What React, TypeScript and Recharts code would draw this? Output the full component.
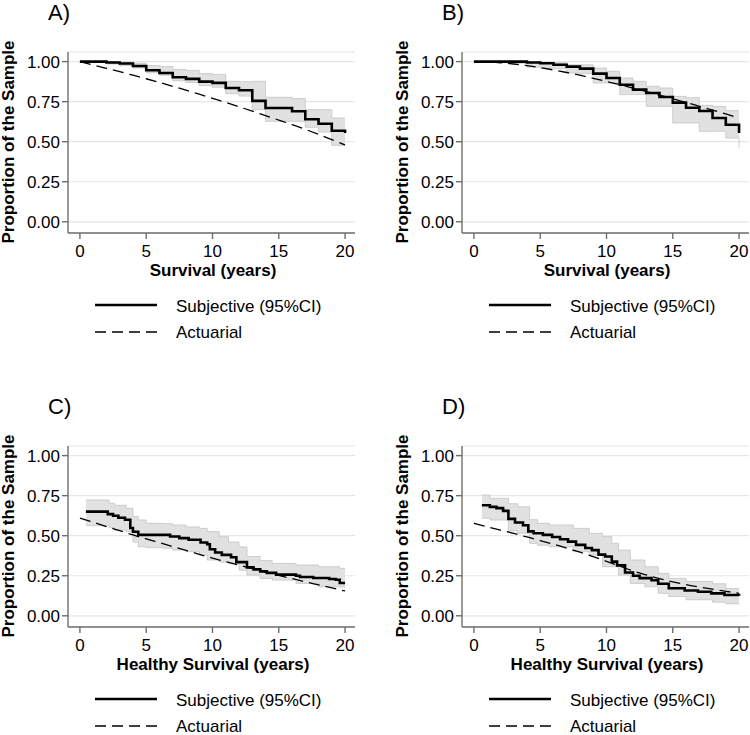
import { ComposedChart, Line, Area, XAxis, YAxis, CartesianGrid } from 'recharts';

// integer years used by panels A, B and all actuarial curves
const years = [0, 1, 2, 3, 4, 5, 6, 7, 8, 9, 10, 11, 12, 13, 14, 15, 16, 17, 18, 19, 20];

// A) survival
const aSubj = [1.0, 1.0, 0.994, 0.988, 0.973, 0.946, 0.929, 0.902, 0.892, 0.875, 0.867, 0.835, 0.821, 0.755, 0.71, 0.71, 0.69, 0.64, 0.6125, 0.568, 0.555];
const aLo = [0.998, 0.995, 0.985, 0.975, 0.96, 0.93, 0.915, 0.88, 0.87, 0.85, 0.84, 0.8, 0.785, 0.7, 0.627, 0.627, 0.627, 0.59, 0.56, 0.477, 0.477];
const aHi = [1.0, 1.0, 1.0, 0.998, 0.99, 0.975, 0.97, 0.95, 0.945, 0.925, 0.92, 0.877, 0.875, 0.877, 0.777, 0.777, 0.769, 0.7, 0.7, 0.648, 0.648];
const aAct = [1.0, 0.979, 0.958, 0.937, 0.915, 0.893, 0.87, 0.846, 0.822, 0.797, 0.771, 0.745, 0.718, 0.691, 0.663, 0.635, 0.607, 0.577, 0.546, 0.513, 0.48];

// B) survival
const bSubj = [1.0, 1.0, 1.0, 1.0, 0.994, 0.99, 0.98, 0.969, 0.956, 0.925, 0.898, 0.856, 0.825, 0.804, 0.779, 0.744, 0.712, 0.692, 0.648, 0.606, 0.554];
const bLo = [0.998, 0.996, 0.995, 0.99, 0.965, 0.96, 0.955, 0.929, 0.925, 0.867, 0.867, 0.794, 0.794, 0.721, 0.721, 0.617, 0.617, 0.565, 0.565, 0.523, 0.46];
const bHi = [1.0, 1.0, 1.0, 1.0, 0.998, 0.995, 0.993, 0.98, 0.98, 0.96, 0.94, 0.898, 0.877, 0.846, 0.835, 0.783, 0.775, 0.727, 0.72, 0.694, 0.694];
const bAct = [1.0, 0.998, 0.993, 0.985, 0.975, 0.962, 0.948, 0.932, 0.915, 0.896, 0.876, 0.856, 0.835, 0.813, 0.791, 0.768, 0.745, 0.721, 0.697, 0.673, 0.648];

// C) healthy survival
const cX = [0.45, 2.1, 2.5, 2.9, 3.4, 3.8, 4.0, 4.4, 6.8, 7.5, 8.2, 9.1, 9.6, 9.8, 10.2, 10.7, 11.4, 11.8, 12.6, 13.1, 13.6, 14.1, 14.8, 16.3, 16.6, 17.6, 18.8, 19.3, 19.6, 20];
const cSubj = [0.65, 0.635, 0.625, 0.612, 0.6, 0.548, 0.525, 0.505, 0.495, 0.485, 0.475, 0.458, 0.447, 0.415, 0.395, 0.38, 0.365, 0.335, 0.302, 0.29, 0.277, 0.268, 0.257, 0.25, 0.242, 0.236, 0.23, 0.225, 0.205, 0.205];
const cBandX = [0.45, 2.2, 2.6, 3.5, 4.0, 4.4, 5.0, 6.3, 7.0, 8.0, 9.0, 9.6, 10.5, 11.2, 12.0, 12.6, 13.6, 14.5, 16.3, 18.0, 19.6, 20];
const cLo = [0.563, 0.55, 0.535, 0.525, 0.46, 0.431, 0.425, 0.421, 0.41, 0.4, 0.379, 0.348, 0.335, 0.327, 0.285, 0.254, 0.233, 0.223, 0.202, 0.181, 0.18, 0.18];
const cHi = [0.723, 0.702, 0.69, 0.671, 0.62, 0.598, 0.577, 0.575, 0.567, 0.555, 0.546, 0.525, 0.494, 0.46, 0.43, 0.37, 0.345, 0.327, 0.317, 0.306, 0.296, 0.296];
const cAct = [0.61, 0.584, 0.557, 0.531, 0.505, 0.48, 0.456, 0.432, 0.408, 0.384, 0.36, 0.338, 0.316, 0.294, 0.272, 0.252, 0.232, 0.212, 0.193, 0.174, 0.155];

// D) healthy survival
const dX = [0.6, 1.2, 1.7, 2.2, 2.6, 3.1, 3.7, 4.1, 4.5, 5.2, 5.9, 6.5, 7.1, 7.7, 8.4, 8.9, 9.4, 9.9, 10.4, 10.8, 11.4, 12.0, 12.5, 13.4, 13.9, 14.7, 15.9, 16.9, 17.9, 18.9, 20];
const dSubj = [0.69, 0.68, 0.672, 0.655, 0.605, 0.582, 0.565, 0.527, 0.515, 0.505, 0.492, 0.478, 0.463, 0.443, 0.423, 0.41, 0.382, 0.37, 0.338, 0.315, 0.27, 0.25, 0.235, 0.222, 0.2, 0.172, 0.158, 0.15, 0.14, 0.13, 0.125];
const dBandX = [0.6, 1.2, 2.6, 3.3, 4.2, 4.8, 5.7, 7.5, 8.7, 9.7, 10.4, 10.9, 11.8, 12.9, 13.9, 14.7, 16.0, 18.0, 19.0, 20];
const dLo = [0.609, 0.598, 0.53, 0.515, 0.452, 0.44, 0.431, 0.4, 0.379, 0.306, 0.306, 0.254, 0.202, 0.181, 0.14, 0.12, 0.1, 0.085, 0.075, 0.07];
const dHi = [0.754, 0.733, 0.7, 0.68, 0.6, 0.577, 0.567, 0.546, 0.515, 0.494, 0.452, 0.41, 0.348, 0.306, 0.265, 0.233, 0.215, 0.2, 0.17, 0.17];
const dAct = [0.578, 0.556, 0.535, 0.514, 0.492, 0.47, 0.447, 0.423, 0.397, 0.369, 0.34, 0.31, 0.28, 0.255, 0.232, 0.212, 0.195, 0.18, 0.166, 0.153, 0.14];

const xTicks = [0, 5, 10, 15, 20];
const yTicks = [0, 0.25, 0.5, 0.75, 1];

const FONT = '"Liberation Sans", Arial, Helvetica, sans-serif';

const toPoints = (xs: number[], ys: number[]) => xs.map((x, i) => ({ x, y: ys[i] }));
const toBand = (xs: number[], lo: number[], hi: number[]) =>
  xs.map((x, i) => ({ x, range: [lo[i], hi[i]] }));

type PanelProps = {
  left: number;
  top: number;
  tag: string;
  xTitle: string;
  subj: { x: number; y: number }[];
  band: { x: number; range: number[] }[];
  act: { x: number; y: number }[];
};

const Panel = ({ left, top, tag, xTitle, subj, band, act }: PanelProps) => (
  <div style={{ position: 'absolute', left, top, width: 375, height: 341 }}>
    <ComposedChart width={356} height={290} margin={{ top: 52, right: 1, left: 28, bottom: 0 }}>
      <CartesianGrid vertical={false} stroke="#e6e6e6" strokeWidth={1.2} />
      <XAxis
        dataKey="x"
        type="number"
        domain={[-0.9, 20.75]}
        ticks={xTicks}
        allowDataOverflow
        height={57}
        stroke="#6e6e6e"
        strokeWidth={1.4}
        tickSize={6}
        tickMargin={6}
        tick={{ fontSize: 17, fill: '#000', fontFamily: FONT }}
      />
      <YAxis
        type="number"
        domain={[-0.07, 1.06]}
        ticks={yTicks}
        allowDataOverflow
        width={40}
        stroke="#6e6e6e"
        strokeWidth={1.4}
        tickSize={6}
        tickMargin={2}
        tickFormatter={(v: number) => v.toFixed(2)}
        tick={{ fontSize: 17, fill: '#000', fontFamily: FONT }}
      />
      <Area
        data={band}
        dataKey="range"
        type="stepAfter"
        fill="#e1e1e1"
        fillOpacity={1}
        stroke="#c4c4c4"
        strokeWidth={0.8}
        dot={false}
        activeDot={false}
        isAnimationActive={false}
      />
      <Line
        data={act}
        dataKey="y"
        type="monotone"
        stroke="#000"
        strokeWidth={1.3}
        strokeDasharray="11 6"
        dot={false}
        activeDot={false}
        isAnimationActive={false}
      />
      <Line
        data={subj}
        dataKey="y"
        type="stepAfter"
        stroke="#000"
        strokeWidth={2.6}
        dot={false}
        activeDot={false}
        isAnimationActive={false}
      />
    </ComposedChart>
    <svg
      width={375}
      height={341}
      style={{ position: 'absolute', left: 0, top: 0, pointerEvents: 'none', fontFamily: FONT }}
    >
      <text x={48} y={20} fontSize={22}>{tag}</text>
      <text
        transform="translate(14,142) rotate(-90)"
        textAnchor="middle"
        fontSize={17}
        fontWeight="bold"
      >
        Proportion of the Sample
      </text>
      <text x={213} y={276} textAnchor="middle" fontSize={17} fontWeight="bold">{xTitle}</text>
      <line x1={95} y1={305} x2={157} y2={305} stroke="#000" strokeWidth={2.6} />
      <text x={176} y={312} fontSize={17}>Subjective (95%CI)</text>
      <line x1={95} y1={332} x2={157} y2={332} stroke="#000" strokeWidth={1.3} strokeDasharray="11 6" />
      <text x={176} y={338} fontSize={17}>Actuarial</text>
    </svg>
  </div>
);

export default function App() {
  return (
    <div
      style={{
        position: 'absolute',
        left: 0,
        top: 0,
        width: 750,
        height: 735,
        overflow: 'hidden',
        background: '#fff',
        fontFamily: FONT,
      }}
    >
      <Panel
        left={0}
        top={0}
        tag="A)"
        xTitle="Survival (years)"
        subj={toPoints(years, aSubj)}
        band={toBand(years, aLo, aHi)}
        act={toPoints(years, aAct)}
      />
      <Panel
        left={394}
        top={0}
        tag="B)"
        xTitle="Survival (years)"
        subj={toPoints(years, bSubj)}
        band={toBand(years, bLo, bHi)}
        act={toPoints(years, bAct)}
      />
      <Panel
        left={0}
        top={394}
        tag="C)"
        xTitle="Healthy Survival (years)"
        subj={toPoints(cX, cSubj)}
        band={toBand(cBandX, cLo, cHi)}
        act={toPoints(years, cAct)}
      />
      <Panel
        left={394}
        top={394}
        tag="D)"
        xTitle="Healthy Survival (years)"
        subj={toPoints(dX, dSubj)}
        band={toBand(dBandX, dLo, dHi)}
        act={toPoints(years, dAct)}
      />
    </div>
  );
}
